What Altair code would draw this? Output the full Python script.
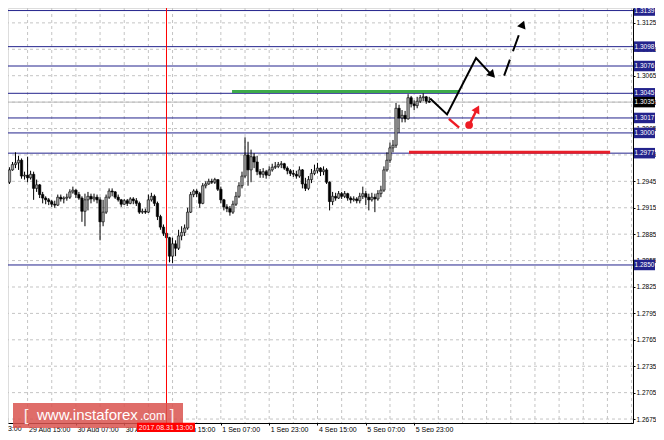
import json
import altair as alt
import pandas as pd

# ---------------- data ----------------
first_open = 1.2937
closes = [1.2941, 1.2942, 1.2944, 1.2958, 1.2964, 1.2966, 1.2969, 1.2951, 1.2952, 1.2949,
          1.2953, 1.2937, 1.2941, 1.2930, 1.2926, 1.2924, 1.2922, 1.2919, 1.2918, 1.2927,
          1.2925, 1.2926, 1.2927, 1.2933, 1.2935, 1.2930, 1.2926, 1.2911, 1.2924, 1.2928,
          1.2925, 1.2927, 1.2924, 1.2899, 1.2910, 1.2927, 1.2934, 1.2933, 1.2927, 1.2924,
          1.2919, 1.2923, 1.2920, 1.2925, 1.2923, 1.2920, 1.2910, 1.2911, 1.2910, 1.2924,
          1.2928, 1.2920, 1.2905, 1.2893, 1.2886, 1.2881, 1.2860, 1.2874, 1.2869, 1.2883,
          1.2887, 1.2892, 1.2910, 1.2930, 1.2934, 1.2931, 1.2920, 1.2940, 1.2942, 1.2945,
          1.2944, 1.2947, 1.2936, 1.2924, 1.2916, 1.2914, 1.2910, 1.2919, 1.2928, 1.2940,
          1.2951, 1.2975, 1.2958, 1.2973, 1.2967, 1.2956, 1.2953, 1.2956, 1.2952, 1.2958,
          1.2961, 1.2962, 1.2964, 1.2965, 1.2960, 1.2957, 1.2954, 1.2953, 1.2951, 1.2958,
          1.2942, 1.2937, 1.2947, 1.2954, 1.2957, 1.2960, 1.2956, 1.2958, 1.2944, 1.2922,
          1.2928, 1.2926, 1.2931, 1.2928, 1.2931, 1.2926, 1.2924, 1.2925, 1.2923, 1.2928,
          1.2931, 1.2927, 1.2924, 1.2927, 1.2925, 1.2931, 1.2935, 1.2958, 1.2969, 1.2983,
          1.2986, 1.3028, 1.3017, 1.3020, 1.3016, 1.3040, 1.3033, 1.3031, 1.3036, 1.3040,
          1.3041, 1.3036, 1.3035]
highs = [1.2943, 1.2945, 1.2948, 1.2961, 1.2967, 1.2978, 1.2974, 1.2971, 1.2956, 1.2973,
         1.2957, 1.2956, 1.2947, 1.2942, 1.2933, 1.2928, 1.2926, 1.2924, 1.2923, 1.2930,
         1.2930, 1.2928, 1.2931, 1.2936, 1.2939, 1.2936, 1.2933, 1.2928, 1.2931, 1.2933,
         1.2931, 1.2931, 1.2930, 1.2927, 1.2924, 1.2930, 1.2937, 1.2937, 1.2934, 1.2930,
         1.2925, 1.2925, 1.2925, 1.2927, 1.2927, 1.2926, 1.2922, 1.2914, 1.2914, 1.2930,
         1.2932, 1.2930, 1.2922, 1.2907, 1.2896, 1.2889, 1.2882, 1.2881, 1.2878, 1.2890,
         1.2894, 1.2896, 1.2915, 1.2933, 1.2936, 1.2936, 1.2933, 1.2943, 1.2945, 1.2948,
         1.2948, 1.2949, 1.2947, 1.2939, 1.2925, 1.2919, 1.2917, 1.2923, 1.2933, 1.2944,
         1.2956, 1.2995, 1.2990, 1.2981, 1.2977, 1.2974, 1.2959, 1.2960, 1.2958, 1.2962,
         1.2965, 1.2967, 1.2967, 1.2968, 1.2966, 1.2962, 1.2959, 1.2958, 1.2957, 1.2962,
         1.2959, 1.2949, 1.2951, 1.2959, 1.2964, 1.2966, 1.2961, 1.2962, 1.2960, 1.2945,
         1.2933, 1.2932, 1.2934, 1.2933, 1.2934, 1.2932, 1.2928, 1.2928, 1.2927, 1.2932,
         1.2939, 1.2934, 1.2931, 1.2932, 1.2931, 1.2935, 1.2940, 1.2962, 1.2978, 1.2989,
         1.2992, 1.3034, 1.3032, 1.3026, 1.3025, 1.3044, 1.3042, 1.3037, 1.3041, 1.3043,
         1.3045, 1.3042, 1.3041]
lows = [1.2935, 1.2937, 1.2941, 1.2942, 1.2957, 1.2960, 1.2958, 1.2948, 1.2947, 1.2944,
        1.2947, 1.2924, 1.2933, 1.2926, 1.2920, 1.2919, 1.2918, 1.2916, 1.2915, 1.2917,
        1.2922, 1.2920, 1.2923, 1.2925, 1.2931, 1.2926, 1.2924, 1.2899, 1.2894, 1.2912,
        1.2920, 1.2922, 1.2920, 1.2878, 1.2894, 1.2908, 1.2925, 1.2928, 1.2925, 1.2922,
        1.2916, 1.2918, 1.2917, 1.2919, 1.2919, 1.2917, 1.2908, 1.2908, 1.2908, 1.2909,
        1.2922, 1.2917, 1.2901, 1.2890, 1.2883, 1.2877, 1.2853, 1.2852, 1.2860, 1.2867,
        1.2878, 1.2883, 1.2890, 1.2909, 1.2927, 1.2927, 1.2915, 1.2919, 1.2937, 1.2941,
        1.2942, 1.2942, 1.2934, 1.2920, 1.2912, 1.2910, 1.2906, 1.2908, 1.2917, 1.2926,
        1.2937, 1.2949, 1.2940, 1.2944, 1.2960, 1.2952, 1.2949, 1.2949, 1.2948, 1.2951,
        1.2956, 1.2959, 1.2960, 1.2960, 1.2958, 1.2953, 1.2951, 1.2950, 1.2948, 1.2949,
        1.2937, 1.2934, 1.2935, 1.2943, 1.2952, 1.2954, 1.2951, 1.2952, 1.2942, 1.2912,
        1.2918, 1.2923, 1.2925, 1.2925, 1.2926, 1.2923, 1.2920, 1.2922, 1.2920, 1.2920,
        1.2925, 1.2918, 1.2912, 1.2922, 1.2910, 1.2923, 1.2927, 1.2933, 1.2956, 1.2966,
        1.2978, 1.2983, 1.3000, 1.3012, 1.3012, 1.3015, 1.3029, 1.3026, 1.3028, 1.3034,
        1.3036, 1.3033, 1.3034]

time_ticks = [9, 25, 41, 57, 73, 89, 105, 121, 137]
time_labels = ["29 Aug 15:00", "30 Aug 07:00", "30 Aug 23:00", "31 Aug 15:00",
               "1 Sep 07:00", "1 Sep 23:00", "4 Sep 15:00", "5 Sep 07:00", "5 Sep 23:00"]
first_label = "28 Aug 23:00"   # its tick lies just left of the visible window
first_label_bar = -7
grid_bars = [1, 9, 17, 25, 33, 41, 49, 57, 65, 73, 81, 89, 97, 105, 113, 121, 129,
             137, 145, 153, 161, 169, 177, 185, 193, 201, 209]
price_ticks = [1.2675, 1.2705, 1.2735, 1.2765, 1.2795, 1.2825, 1.2855, 1.2885, 1.2915,
               1.2945, 1.2975, 1.3005, 1.3035, 1.3065, 1.3095, 1.3125]
levels = [1.3139, 1.3098, 1.3076, 1.3045, 1.3017, 1.3000, 1.2977, 1.2850]
last_price = 1.3035
crosshair_bar = 55
crosshair_label = "2017.08.31 13:00"

green_seg = {"x1": 76.7, "x2": 151.9, "p": 1.3047}
red_seg = {"x1": 135.3, "x2": 201.9, "p": 1.2978}

path_bars = [142.3, 147.9, 157.5, 162.1]
path_prices = [1.3039, 1.3021, 1.3085, 1.3068]
dash_bars = [166.8, 172.7]
dash_prices = [1.3065, 1.3121]
red_line_bars = [148.5, 151.9]
red_line_prices = [1.3016, 1.3006]
red_arrow_bars = [155.2, 157.7]
red_arrow_prices = [1.3009, 1.3026]
heads = [  # bar, price, angle, colour
    (162.6, 1.3067, 137, "#000000"),
    (172.8, 1.3122, 21, "#000000"),
    (157.7, 1.3026, 28, "#ee1c25"),
]

# ---------------- tables ----------------
opens = [first_open] + closes[:-1]
candles = pd.DataFrame({
    "i": list(range(len(closes))),
    "open": opens, "close": closes, "high": highs, "low": lows,
})
candles["high"] = candles[["high", "open", "close"]].max(axis=1)
candles["low"] = candles[["low", "open", "close"]].min(axis=1)
candles["col"] = ["#a4a4a4" if c >= o else "#000000" for o, c in zip(opens, closes)]

# page = 8px margin + 648x424 svg (no page overflow)
W, H = 625, 415
PAD_R, PAD_B = 23, 9
XDOM = [2.517, 209.47]
YDOM = [1.26705, 1.31419]
FONT = "Liberation Sans"
NAVY = "#23238c"
BOX_X = 636.5

label_expr = json.dumps(time_labels) + "[(datum.value - 9) / 16]"
x_axis = alt.Axis(values=time_ticks, labelExpr=label_expr, grid=False, tickSize=2,
                  tickColor="black", domainColor="black", labelAlign="left",
                  labelOffset=1, labelPadding=0, labelFontSize=7, labelFont=FONT,
                  labelColor="black", labelFlush=False, labelOverlap=False, title=None)
y_axis = alt.Axis(orient="right", values=price_ticks, format=".4f", grid=False,
                  tickSize=2, tickColor="black", domainColor="black", labelFontSize=6.5,
                  labelFont=FONT, labelColor="black", labelPadding=1,
                  labelOverlap=False, labelFlush=False, title=None)
xs = alt.Scale(domain=XDOM, nice=False, zero=False, padding=0)
ys = alt.Scale(domain=YDOM, nice=False, zero=False, padding=0)


def X(f):
    return alt.X(f, scale=xs, axis=x_axis)


def Y(f):
    return alt.Y(f, scale=ys, axis=y_axis)


vgrid = alt.Chart(pd.DataFrame({"i": grid_bars})).mark_rule(
    color="#c4c4c4", strokeDash=[3, 3], strokeWidth=1).encode(x=X("i:Q"))
hgrid = alt.Chart(pd.DataFrame({"p": price_ticks})).mark_rule(
    color="#c4c4c4", strokeDash=[3, 3], strokeWidth=1).encode(y=Y("p:Q"))
level_lines = alt.Chart(pd.DataFrame({"p": levels})).mark_rule(
    color=NAVY, strokeWidth=1).encode(y=Y("p:Q"))
last_line = alt.Chart(pd.DataFrame({"p": [last_price]})).mark_rule(
    color="#b8b8b8", strokeWidth=1).encode(y=Y("p:Q"))

wicks = alt.Chart(candles).mark_rule(color="black", strokeWidth=1, clip=True).encode(
    x=X("i:Q"), y=Y("low:Q"), y2="high:Q")
bodies = alt.Chart(candles).mark_bar(width=2.4, stroke="black", strokeWidth=0.6,
                                     clip=True).encode(
    x=X("i:Q"), y=Y("open:Q"), y2="close:Q", fill=alt.Fill("col:N", scale=None))

green = alt.Chart(pd.DataFrame([green_seg])).mark_rule(
    color="#3daa4a", strokeWidth=3).encode(x=X("x1:Q"), x2="x2:Q", y=Y("p:Q"))
red = alt.Chart(pd.DataFrame([red_seg])).mark_rule(
    color="#e8202a", strokeWidth=3).encode(x=X("x1:Q"), x2="x2:Q", y=Y("p:Q"))

path = alt.Chart(pd.DataFrame({"i": path_bars, "p": path_prices,
                               "o": list(range(len(path_bars)))})).mark_line(
    color="black", strokeWidth=2).encode(x=X("i:Q"), y=Y("p:Q"), order="o:Q")
dash = alt.Chart(pd.DataFrame({"i": dash_bars, "p": dash_prices, "o": [0, 1]})).mark_line(
    color="black", strokeWidth=2, strokeDash=[17, 9]).encode(x=X("i:Q"), y=Y("p:Q"), order="o:Q")
red_line = alt.Chart(pd.DataFrame({"i": red_line_bars, "p": red_line_prices, "o": [0, 1]})).mark_line(
    color="#ee1c25", strokeWidth=2.5).encode(x=X("i:Q"), y=Y("p:Q"), order="o:Q")
red_arrow = alt.Chart(pd.DataFrame({"i": red_arrow_bars, "p": red_arrow_prices, "o": [0, 1]})).mark_line(
    color="#ee1c25", strokeWidth=2.5).encode(x=X("i:Q"), y=Y("p:Q"), order="o:Q")
red_dot = alt.Chart(pd.DataFrame({"i": [red_arrow_bars[0]], "p": [red_arrow_prices[0]]})).mark_point(
    shape="circle", filled=True, size=60, color="#ee1c25", opacity=1).encode(x=X("i:Q"), y=Y("p:Q"))
heads_df = pd.DataFrame(heads, columns=["i", "p", "ang", "c"])
arrowheads = alt.Chart(heads_df).mark_point(shape="triangle", filled=True, size=80,
                                             opacity=1).encode(
    x=X("i:Q"), y=Y("p:Q"), angle=alt.Angle("ang:Q", scale=None),
    color=alt.Color("c:N", scale=None))

cross = alt.Chart(pd.DataFrame({"i": [crosshair_bar]})).mark_rule(
    color="#ff0000", strokeWidth=1).encode(x=X("i:Q"))

first_lab = alt.Chart(pd.DataFrame({"i": [first_label_bar], "t": [first_label]})).mark_text(
    font=FONT, fontSize=7, color="black", align="left", baseline="top", dx=1, dy=2).encode(
    x=X("i:Q"), y=alt.value(H), text="t:N")

one = pd.DataFrame({"a": [0]})
cross_box = alt.Chart(one).mark_point(
    shape="M-1,-0.16L1,-0.16L1,0.16L-1,0.16Z", size=3364, filled=True, opacity=1,
    color="#ff0000").encode(x=alt.value(158), y=alt.value(419.5))
cross_txt = alt.Chart(one).mark_text(text=crosshair_label, font=FONT, fontSize=7,
                                     color="#ffe8e8").encode(x=alt.value(158), y=alt.value(420))

wm_box = alt.Chart(one).mark_point(
    shape="M-1,-0.147L1,-0.147L1,0.147L-1,0.147Z", size=28900, filled=True, opacity=0.85,
    color="#d9534f").encode(x=alt.value(90), y=alt.value(407.5))
wm_l = alt.Chart(one).mark_text(text="[", font=FONT, fontSize=17, color="#fbeaea",
                                align="center").encode(x=alt.value(18), y=alt.value(408))
wm_r = alt.Chart(one).mark_text(text="]", font=FONT, fontSize=17, color="#fbeaea",
                                align="center").encode(x=alt.value(164), y=alt.value(408))
wm_main = alt.Chart(one).mark_text(text="www.instaforex", font=FONT, fontSize=15,
                                   color="white", align="left").encode(
    x=alt.value(29), y=alt.value(407))
wm_com = alt.Chart(one).mark_text(text=".com", font=FONT, fontSize=12, color="white",
                                  align="left").encode(x=alt.value(132), y=alt.value(408))

lev_df = pd.DataFrame({"p": levels + [last_price],
                       "t": [f"{v:.4f}" for v in levels] + [f"{last_price:.4f}"],
                       "c": [NAVY] * len(levels) + ["#000000"]})
lev_box = alt.Chart(lev_df).mark_point(
    shape="M-1,-0.5L1,-0.5L1,0.5L-1,0.5Z", size=441, filled=True, opacity=1).encode(
    x=alt.value(BOX_X), y=Y("p:Q"), color=alt.Color("c:N", scale=None))
lev_txt = alt.Chart(lev_df).mark_text(font=FONT, fontSize=6.5, color="white").encode(
    x=alt.value(BOX_X), y=Y("p:Q"), text="t:N")

chart = alt.layer(
    vgrid, hgrid, last_line, level_lines, wicks, bodies, green, red, cross,
    path, dash, red_line, red_arrow, red_dot, arrowheads, first_lab,
    wm_box, wm_l, wm_r, wm_main, wm_com, cross_box, cross_txt, lev_box, lev_txt,
).properties(
    width=W, height=H,
    autosize=alt.AutoSizeParams(type="none"),
    padding={"left": 0, "top": 0, "right": PAD_R, "bottom": PAD_B},
).configure_view(stroke=None).configure(background="white")

chart.save("out.html", embed_options={"renderer": "svg", "actions": False})
